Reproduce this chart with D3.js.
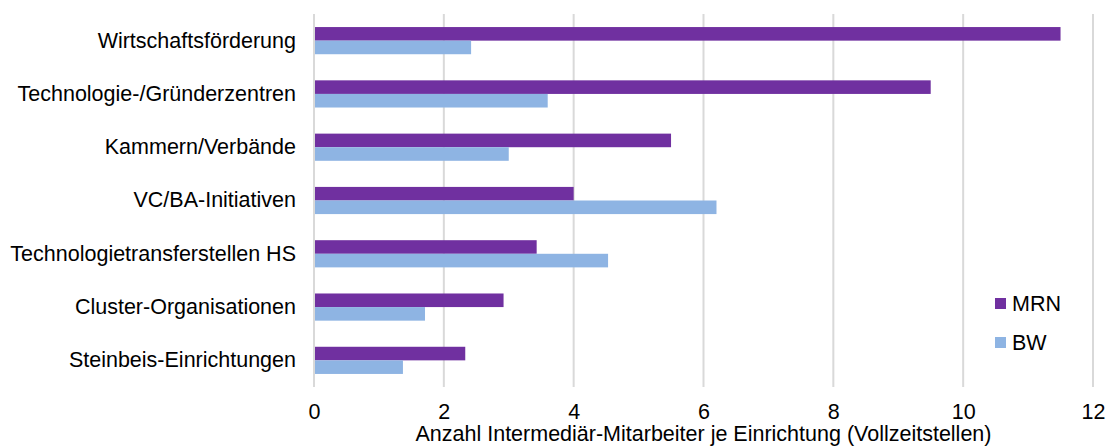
<!DOCTYPE html>
<html>
<head>
<meta charset="utf-8">
<script src="https://cdn.jsdelivr.net/npm/d3@7"></script>
<style>
  body { margin: 0; background: #fff; }
  svg { display: block; font-family: "Liberation Sans", Arial, sans-serif; }
</style>
</head>
<body>
<svg id="chart" width="1109" height="446"></svg>
<script>
const categories = [
  'Wirtschaftsförderung',
  'Technologie-/Gründerzentren',
  'Kammern/Verbände',
  'VC/BA-Initiativen',
  'Technologietransferstellen HS',
  'Cluster-Organisationen',
  'Steinbeis-Einrichtungen'
];
const seriesNames = ['MRN', 'BW'];
const mrnValues = [11.5, 9.5, 5.5, 4.0, 3.43, 2.92, 2.33];
const bwValues = [2.42, 3.6, 3.0, 6.2, 4.53, 1.71, 1.37];
const xTicks = [0, 2, 4, 6, 8, 10, 12];
const axisTitle = 'Anzahl Intermediär-Mitarbeiter je Einrichtung (Vollzeitstellen)';

const colors = { MRN: '#7030a0', BW: '#8eb4e3' };
const fontSize = '21.5px';

const rows = categories.map((c, i) => ({ category: c, MRN: mrnValues[i], BW: bwValues[i] }));

const margin = { top: 14, right: 16, bottom: 59, left: 314 };
const width = 1109;
const height = 446;
const innerW = 1093 - margin.left;
const innerH = height - margin.top - margin.bottom;

const svg = d3.select('#chart');
const g = svg.append('g').attr('transform', `translate(${margin.left},${margin.top})`);

const x = d3.scaleLinear().domain([0, 12]).range([0, innerW]);
const y = d3.scaleBand().domain(categories).range([0, innerH])
  .paddingInner(0.49).paddingOuter(0.245);
const ySub = d3.scaleBand().domain(seriesNames).range([0, y.bandwidth()]);

// gridlines
g.append('g')
  .selectAll('line')
  .data(xTicks)
  .join('line')
    .attr('x1', d => x(d)).attr('x2', d => x(d))
    .attr('y1', 0).attr('y2', innerH)
    .attr('stroke', '#d9d9d9')
    .attr('stroke-width', 2);

// bars
const groups = g.append('g')
  .selectAll('g')
  .data(rows)
  .join('g')
    .attr('transform', d => `translate(0,${y(d.category)})`);

groups.selectAll('rect')
  .data(d => seriesNames.map(s => ({ key: s, value: d[s] })))
  .join('rect')
    .attr('x', x(0) + 1)
    .attr('y', d => ySub(d.key))
    .attr('width', d => x(d.value) - x(0) - 1)
    .attr('height', ySub.bandwidth())
    .attr('fill', d => colors[d.key]);

// category labels
g.append('g')
  .call(d3.axisLeft(y).tickSize(0).tickPadding(18))
  .call(a => a.select('.domain').remove())
  .selectAll('text')
    .attr('font-size', fontSize)
    .attr('font-family', '"Liberation Sans", Arial, sans-serif')
    .attr('fill', '#000');

// x axis labels
g.append('g')
  .attr('transform', `translate(0,${innerH})`)
  .call(d3.axisBottom(x).tickValues(xTicks).tickSize(0).tickPadding(17))
  .call(a => a.select('.domain').remove())
  .selectAll('text')
    .attr('font-size', fontSize)
    .attr('font-family', '"Liberation Sans", Arial, sans-serif')
    .attr('fill', '#000');

// axis title
svg.append('text')
  .attr('x', margin.left + innerW / 2)
  .attr('y', 441)
  .attr('text-anchor', 'middle')
  .attr('font-size', fontSize)
  .attr('fill', '#000')
  .text(axisTitle);

// legend
const legend = svg.append('g').attr('transform', 'translate(995,298)');
const item = legend.selectAll('g')
  .data(seriesNames)
  .join('g')
    .attr('transform', (d, i) => `translate(0,${i * 39})`);
item.append('rect')
  .attr('width', 11).attr('height', 11)
  .attr('fill', d => colors[d]);
item.append('text')
  .attr('x', 17).attr('y', 13)
  .attr('font-size', fontSize)
  .attr('fill', '#000')
  .text(d => d);
</script>
</body>
</html>
